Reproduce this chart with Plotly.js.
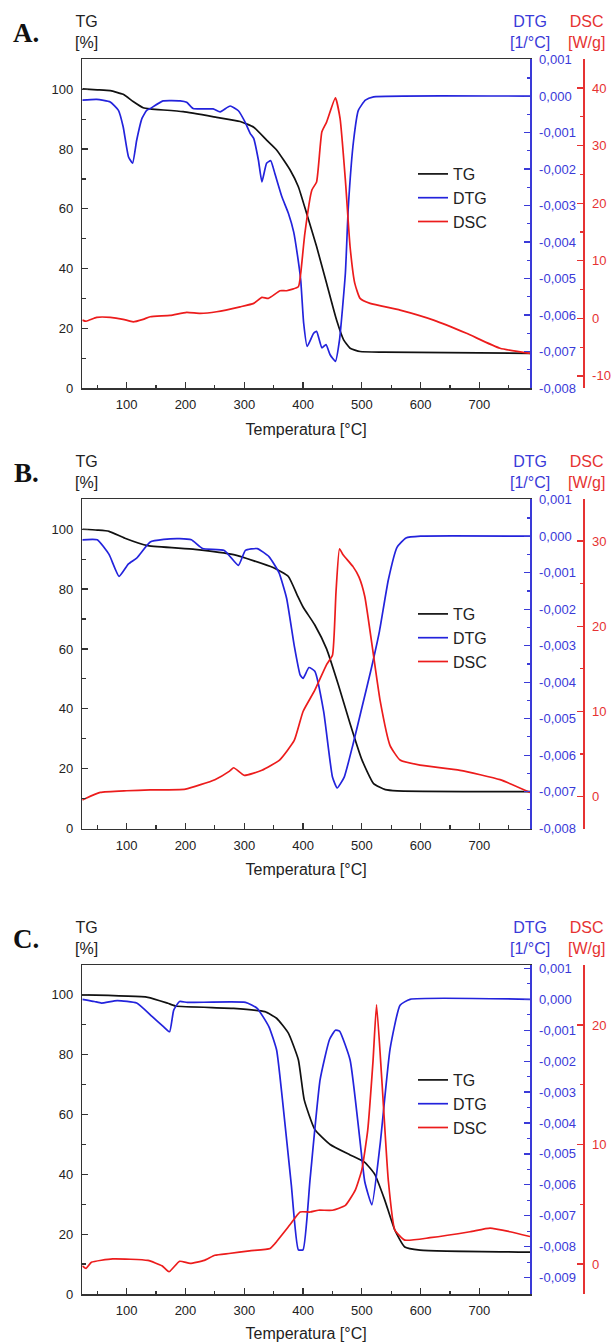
<!DOCTYPE html>
<html>
<head>
<meta charset="utf-8">
<script src="https://cdn.plot.ly/plotly-3.0.1.min.js"></script>
<style>html,body{margin:0;padding:0;background:#fff;}#chart{width:611px;height:1342px;}</style>
</head>
<body>
<div id="chart"></div>
<script>
// ---------------- DATA ----------------
// Panel A
const A_tg_T   = [24.5, 50, 72, 94, 111, 128, 140, 196, 253, 293, 316, 338, 355, 378, 392, 406, 423, 440, 457, 469, 480, 497, 537, 786];
const A_tg     = [100.1, 99.8, 99.5, 98.3, 95.9, 93.8, 93.4, 92.5, 90.6, 89.2, 87.3, 83.0, 79.7, 73.0, 67.4, 58.5, 47.4, 35.1, 22.8, 16.2, 13.4, 12.3, 12.1, 11.7];
const A_dtg_T  = [24.5, 49, 72, 86, 94, 103, 110, 117, 126, 134, 140, 162, 191, 202, 213, 247, 259, 276, 290, 301, 310, 316, 324, 330, 338, 345, 352, 364, 375, 384, 390, 396, 401, 407, 418, 423, 432, 439, 446, 455, 462, 472, 477, 486, 494, 506, 520, 786];
const A_dtg    = [-0.00011, -0.00009, -0.00016, -0.00039, -0.00084, -0.00166, -0.00184, -0.00121, -0.00061, -0.00039, -0.00034, -0.00013, -0.00013, -0.00017, -0.00034, -0.00035, -0.00043, -0.00027, -0.0004, -0.0007, -0.00102, -0.00116, -0.00175, -0.00235, -0.00184, -0.00177, -0.00212, -0.00276, -0.00321, -0.00372, -0.00431, -0.00504, -0.00622, -0.00686, -0.0065, -0.00645, -0.0069, -0.00681, -0.00709, -0.00727, -0.00668, -0.00485, -0.00303, -0.00121, -0.00039, -0.00011, -0.00002, 0.0];
const A_dsc_T  = [24.5, 31, 49, 72, 94, 111, 128, 140, 174, 202, 225, 253, 293, 316, 330, 341, 361, 372, 392, 396, 403, 415, 423, 432, 440, 455, 463, 472, 480, 488, 497, 514, 565, 622, 678, 735, 786];
const A_dsc    = [-0.3, -0.5, 0.17, 0.17, -0.17, -0.6, -0.17, 0.28, 0.52, 1.04, 0.87, 1.15, 2.0, 2.6, 3.64, 3.47, 4.8, 4.8, 5.5, 7.8, 14.7, 22.3, 23.7, 32.4, 34.1, 38.3, 34.7, 24, 12.4, 6.07, 3.47, 2.6, 1.44, -0.3, -2.6, -5.2, -6.07];

// Panel B
const B_tg_T   = [24.5, 50, 70, 97, 136, 216, 282, 349, 375, 390, 400, 420, 440, 460, 480, 500, 520, 540, 560, 786];
const B_tg     = [100, 99.7, 99.3, 97, 94.5, 93.3, 91.5, 87.2, 84.2, 78, 74, 68, 60, 48, 35, 23, 15, 13, 12.6, 12.3];
const B_dtg_T  = [24.5, 50, 70, 87, 103, 117, 140, 163, 190, 210, 229, 266, 290, 302, 322, 342, 359, 372, 385, 395, 400, 410, 420, 435, 450, 458, 470, 485, 500, 515, 530, 545, 560, 575, 600, 786];
const B_dtg    = [-0.0001, -0.0001, -0.0005, -0.0011, -0.00076, -0.0006, -0.00016, -0.00009, -0.00007, -0.0001, -0.00034, -0.00039, -0.0008, -0.00039, -0.00034, -0.00056, -0.001, -0.0017, -0.003, -0.0038, -0.0039, -0.0036, -0.0037, -0.0048, -0.0066, -0.0069, -0.0066, -0.0057, -0.0047, -0.0037, -0.0026, -0.0012, -0.0003, -0.00005, 0.0, 0.0];
const B_dsc_T  = [24.5, 30, 55, 100, 140, 200, 250, 275, 282, 300, 330, 360, 385, 400, 420, 440, 450, 456, 462, 468, 485, 495, 505, 531, 548, 565, 599, 667, 735, 786];
const B_dsc    = [-0.4, -0.2, 0.5, 0.7, 0.8, 0.9, 2.0, 3.0, 3.4, 2.5, 3.1, 4.3, 6.6, 10, 12.5, 15.5, 16.6, 24, 29.1, 28.4, 27, 25.8, 23.5, 11.3, 6, 4.3, 3.7, 3.1, 2.0, 0.5];

// Panel C
const C_tg_T   = [24.5, 136, 170, 183, 282, 335, 355, 375, 392, 402, 420, 446, 480, 505, 522, 539, 556, 573, 599, 786];
const C_tg     = [100, 99.2, 97.2, 96.3, 95.5, 94.4, 92.2, 87.2, 78.3, 64.9, 55, 50, 46.5, 44, 40, 31.4, 21.4, 15.7, 14.7, 14];
const C_dtg_T  = [24.5, 45, 57, 84, 117, 143, 163, 173, 180, 190, 203, 302, 322, 342, 355, 365, 380, 392, 400, 412, 429, 445, 455, 462, 480, 497, 505, 517, 531, 548, 565, 582, 786];
const C_dtg    = [0.0, -0.00007, -0.00012, -0.00004, -0.00012, -0.00055, -0.00089, -0.00105, -0.00035, -0.00007, -0.0001, -0.0001, -0.00029, -0.00089, -0.00164, -0.00326, -0.006, -0.0081, -0.0081, -0.0058, -0.0026, -0.0013, -0.001, -0.00103, -0.00196, -0.0046, -0.0059, -0.00665, -0.0047, -0.0016, -0.00019, 0.0, 0.0];
const C_dsc_T  = [24.5, 31, 40, 76, 136, 160, 172, 190, 208, 232, 250, 274, 309, 344, 352, 378, 395, 412, 426, 450, 472, 489, 500, 510, 519, 525, 534, 545, 556, 573, 616, 684, 718, 752, 786];
const C_dsc    = [-0.15, -0.36, 0.14, 0.43, 0.3, -0.15, -0.65, 0.23, 0.05, 0.3, 0.73, 0.88, 1.1, 1.3, 1.7, 3.3, 4.35, 4.35, 4.5, 4.5, 4.9, 6.2, 7.9, 11.2, 17, 21.7, 15.4, 7, 2.85, 2.0, 2.2, 2.7, 3.0, 2.7, 2.3];

// Tick values for the right-hand axes
const dtgTicksAB = [0.001, 0, -0.001, -0.002, -0.003, -0.004, -0.005, -0.006, -0.007, -0.008];
const dtgTicksC  = [0.001, 0, -0.001, -0.002, -0.003, -0.004, -0.005, -0.006, -0.007, -0.008, -0.009];
const dscTicksA  = [-10, 0, 10, 20, 30, 40];
const dscTicksB  = [0, 10, 20, 30];
const dscTicksC  = [0, 10, 20];

const seriesNames = ['TG', 'DTG', 'DSC'];
const panelLetters = ['A.', 'B.', 'C.'];
const xTitle = 'Temperatura [°C]';
const headTG = 'TG<br>[%]';
const headDTG = 'DTG<br>[1/°C]';
const headDSC = 'DSC<br>[W/g]';

// ---------------- LAYOUT / STYLE ----------------
const W = 611, H = 1342;
const colTG = '#111111', colDTG = '#2323dc', colDSC = '#ec1c1c';
const colDTGax = '#3a3ad8', colDSCax = '#e63232';
const px = v => v / W, py = v => 1 - v / H;
const fmtDTG = v => (v === 0 ? '0,000' : (v < 0 ? '-' : '') + Math.abs(v).toFixed(3).replace('.', ','));
const fmtDSC = v => (v < 0 ? '-' : '') + Math.abs(v).toFixed(0);

const panels = [
  {top: 59.3, bottom: 388.3, dtgRange: [-0.00801, 0.00101], dscRange: [-12.15, 45], off: 0,
   dtgTicks: dtgTicksAB, dscTicks: dscTicksA,
   data: [[A_tg_T, A_tg], [A_dtg_T, A_dtg], [A_dsc_T, A_dsc]]},
  {top: 499.3, bottom: 828.5, dtgRange: [-0.00801, 0.00101], dscRange: [-3.73, 34.9], off: 440,
   dtgTicks: dtgTicksAB, dscTicks: dscTicksB,
   data: [[B_tg_T, B_tg], [B_dtg_T, B_dtg], [B_dsc_T, B_dsc]]},
  {top: 965, bottom: 1294, dtgRange: [-0.00953, 0.00111], dscRange: [-2.51, 25.02], off: 906,
   dtgTicks: dtgTicksC, dscTicks: dscTicksC,
   data: [[C_tg_T, C_tg], [C_dtg_T, C_dtg], [C_dsc_T, C_dsc]]}
];

const xDomain = [px(82.3), px(530)];
const layout = {
  width: W, height: H,
  margin: {l: 0, r: 0, t: 0, b: 0},
  paper_bgcolor: '#ffffff', plot_bgcolor: '#ffffff',
  separators: ',.',
  font: {family: 'Liberation Sans, Arial, sans-serif', size: 13, color: '#222'},
  showlegend: true,
  annotations: []
};
const traces = [];
const colors = [colTG, colDTG, colDSC];

panels.forEach((p, i) => {
  const xn = i === 0 ? '' : String(i + 1);
  const yTG = 3 * i + 1, yDTG = 3 * i + 2, yDSC = 3 * i + 3;
  const yId = n => (n === 1 ? '' : String(n));
  const yDom = [py(p.bottom), py(p.top)];
  const legName = i === 0 ? 'legend' : 'legend' + (i + 1);

  layout['xaxis' + xn] = {
    domain: xDomain, anchor: 'y' + yId(yTG), range: [24.5, 786],
    tick0: 0, dtick: 100, ticks: 'inside', ticklen: 6, tickwidth: 1.2, tickcolor: '#333',
    minor: {tick0: 0, dtick: 50, ticks: 'inside', ticklen: 3.5, tickcolor: '#333', tickwidth: 1.2},
    showline: true, linecolor: '#333', linewidth: 1.5, mirror: true,
    showgrid: false, zeroline: false, ticklabelstandoff: 4,
    tickfont: {size: 13, color: '#222'},
    title: {text: xTitle, font: {size: 16, color: '#222'}, standoff: 12}
  };
  layout['yaxis' + yId(yTG)] = {
    domain: yDom, anchor: 'x' + xn, range: [0, 110],
    tick0: 0, dtick: 20, ticks: 'inside', ticklen: 6, tickwidth: 1.2, tickcolor: '#333',
    minor: {tick0: 0, dtick: 10, ticks: 'inside', ticklen: 3.5, tickcolor: '#333', tickwidth: 1.2},
    showline: true, linecolor: '#333', linewidth: 1.5,
    showgrid: false, zeroline: false, ticklabelstandoff: 5,
    tickfont: {size: 13, color: '#222'}
  };
  layout['yaxis' + yId(yDTG)] = {
    overlaying: 'y' + yId(yTG), anchor: 'x' + xn, side: 'right', range: p.dtgRange,
    tickmode: 'array', tickvals: p.dtgTicks, ticktext: p.dtgTicks.map(fmtDTG),
    ticks: 'inside', ticklen: 6, tickwidth: 1.2, tickcolor: colDTGax,
    minor: {tickmode: 'linear', tick0: 0, dtick: 0.0005, ticks: 'inside', ticklen: 3.5, tickcolor: colDTGax, tickwidth: 1.2},
    showline: true, linecolor: colDTGax, linewidth: 1.5,
    showgrid: false, zeroline: false, ticklabelstandoff: 5,
    tickfont: {size: 13, color: colDTGax}
  };
  layout['yaxis' + yId(yDSC)] = {
    overlaying: 'y' + yId(yTG), anchor: 'free', position: px(583), side: 'right', range: p.dscRange,
    tickmode: 'array', tickvals: p.dscTicks, ticktext: p.dscTicks.map(fmtDSC),
    ticks: 'inside', ticklen: 6, tickwidth: 1.2, tickcolor: colDSCax,
    minor: {tickmode: 'linear', tick0: 0, dtick: 5, ticks: 'inside', ticklen: 3.5, tickcolor: colDSCax, tickwidth: 1.2},
    showline: true, linecolor: colDSCax, linewidth: 1.5,
    showgrid: false, zeroline: false, ticklabelstandoff: 5,
    tickfont: {size: 13, color: colDSCax}
  };
  layout[legName] = {
    x: px(413), xanchor: 'left', y: py(157 + p.off), yanchor: 'top',
    bgcolor: 'rgba(0,0,0,0)', borderwidth: 0, tracegroupgap: 0,
    font: {size: 16, color: '#222'}
  };

  const yIds = [yTG, yDTG, yDSC];
  p.data.forEach((d, k) => {
    traces.push({
      x: d[0], y: d[1], type: 'scatter', mode: 'lines', name: seriesNames[k],
      xaxis: 'x' + xn, yaxis: 'y' + yId(yIds[k]), legend: legName,
      line: {color: colors[k], width: 1.7, shape: 'spline', smoothing: 0.45}
    });
  });

  const ann = (text, x, y, font) => layout.annotations.push({
    text, xref: 'paper', yref: 'paper', x: px(x), y: py(y), xanchor: 'center', yanchor: 'middle',
    showarrow: false, font
  });
  ann(panelLetters[i], 26, 33 + p.off, {family: 'Liberation Serif, Times New Roman, serif', size: 27, color: '#111', weight: 'bold'});
  ann(headTG, 86, 32 + p.off, {size: 16, color: '#222'});
  ann(headDTG, 530, 32 + p.off, {size: 16, color: colDTGax});
  ann(headDSC, 586, 32 + p.off, {size: 16, color: colDSCax});
});

Plotly.newPlot('chart', traces, layout, {displayModeBar: false, staticPlot: true});
</script>
</body>
</html>
